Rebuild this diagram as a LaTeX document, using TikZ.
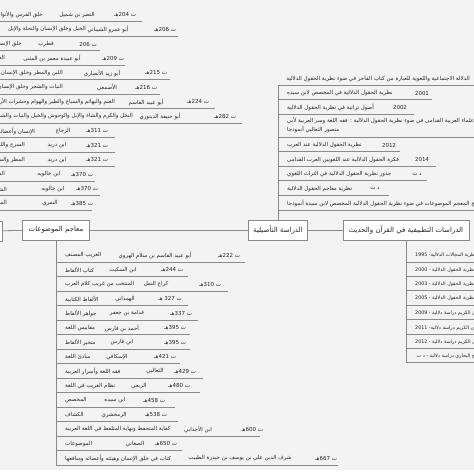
\documentclass[tikz,border=0pt]{standalone}
\usepackage{fontspec}
\newfontfamily\arabicfont[Script=Arabic]{DejaVu Sans}
\TeXXeTstate=1
\usetikzlibrary{graphs}
\definecolor{linegray}{HTML}{8A8A8A}
\definecolor{textgray}{HTML}{262626}
\definecolor{paper}{HTML}{F3F3F3}
\newcommand{\ar}[1]{\beginR #1\endR}
\tikzset{
  topic/.style= {draw=linegray, fill=white, minimum height=20pt, inner sep=2pt, font=\arabicfont\fontsize{7}{8}\selectfont, text=textgray},
  leaf/.style= {inner sep=0pt, font=\arabicfont\fontsize{5.5}{6.5}\selectfont, text=textgray},
  smallleaf/.style= {leaf, font=\arabicfont\fontsize{4.8}{6}\selectfont},
  branch/.style= {draw=linegray, line width=0.8pt},
}

\begin{document}
\begin{tikzpicture}[x=1pt, y=-1pt]
  \useasboundingbox (0,0) rectangle (474,474);
  \clip (0,0) rectangle (474,474);
  \fill [paper] (0,0) rectangle (474,470);
  \fill [white] (0,470) rectangle (474,474);

  % main topics
  \node [topic, anchor=east, minimum width=40pt] (root) at (2,231) {};
  \node [topic, minimum width=67pt] (mawd) at (56,230) {\ar{معاجم الموضوعات}};
  \node [topic, minimum width=59pt] (tasil) at (278,230) {\ar{الدراسة التأصيلية}};
  \node [topic, minimum width=126pt] (tatbiq) at (406,230) {\ar{الدراسات التطبيقية في القرآن والحديث}};

  \graph [edges=branch] {
    (root) -- (mawd) -- (tasil) -- (tatbiq) ;
  } ;

  % top-left list: title / author / date
  \foreach \ttl/\who/\when/\tx/\wx/\dx/\lend [count=\i from 0] in {
    خلق الفرس والأنواء/النضر بن شميل/ت 204هـ/43/77/125/142,
    الخيل وخلق الإنسان والنحلة والإبل/أبو عمرو الشيباني/ت 206هـ/86/108/165/178,
    خلق الإنسان والفرس/قطرب/ت 206/22/46/88/100,
    الخيل والإبل/أبو عبيدة معمر بن المثنى/ت 209هـ/5/52/113/125,
    اللبن والمطر وخلق الإنسان والإبل/أبو زيد الأنصاري/ت 215هـ/63/102/156/170,
    النبات والشجر وخلق الإنسان والإبل/الأصمعي/ت 216هـ/63/107/146/160,
    الغنم والبهائم والسباع والطير والهوام وحشرات الأرض/أبو عبيد القاسم/ت 224هـ/115/146/198/215,
    النخل والكرم والشاء والإبل والوحوش والخيل والنبات والشجر/أبو حنيفة الدينوري/ت 282هـ/133/160/225/242,
    الإنسان وأعضائه/الزجاج/ت 311هـ/35/63/97/115,
    السرج واللجام/ابن دريد/ت 321هـ/25/57/97/115,
    المطر والسحاب/ابن دريد/ت 321هـ/25/57/97/115,
    الشجر والنبات/ابن خالويه/ت 370هـ/5/49/82/95,
    الشاء/ابن خالويه/ت 370هـ/7/53/87/100,
    الملمع/النمري/ت 385هـ/7/50/82/92
  }{
    \pgfmathsetmacro\yy{15+14.5*\i}
    \coordinate (tl\i) at (-5,\yy+6.5);
    \coordinate (tle\i) at (\lend,\yy+6.5);
    \draw [branch] (tl\i) -- (tle\i);
    \node [leaf, anchor=east] (tlt\i) at (\tx,\yy) {\ar{\ttl}};
    \node [leaf] (tla\i) at (\wx,\yy) {\ar{\who}};
    \node [leaf] (tld\i) at (\dx,\yy) {\ar{\when}};
  }

  % top-right list
  \coordinate (trtop) at (278,85);
  \coordinate (trtope) at (480,85);
  \draw [branch] (tasil.north) -- (trtop) -- (trtope);
  \node [leaf, anchor=east] (trhead) at (470,79) {\ar{الدلالة الاجتماعية واللغوية للعبارة من كتاب الفاخر في ضوء نظرية الحقول الدلالية}};
  \foreach \ttl/\when/\dx/\lend/\yy [count=\i] in {
    نظرية الحقول الدلالية في المخصص لابن سيده/2001/422/432/99.6,
    أصول تراثية في نظرية الحقول الدلالية/2002/400/414/114.2,
    نظرية الحقول الدلالية عند العرب/2012/389/400/151.6,
    فكرة الحقول الدلالية عند اللغويين العرب القدامى/2014/422/436/166.2,
    جذور نظرية الحقول الدلالية في التراث اللغوي/\ar{د ت}/417/427/180.8,
    نظرية معاجم الحقول الدلالية/\ar{د ت}/375/389/195.4
  }{
    \coordinate (tr\i) at (278,\yy);
    \coordinate (tre\i) at (\lend,\yy);
    \draw [branch] (tr\i) -- (tre\i);
    \node [leaf, anchor=west] (trt\i) at (287,\yy-6.5) {\ar{\ttl}};
    \node [leaf] (trd\i) at (\dx,\yy-6.5) {\when};
  }
  \coordinate (trlong) at (278,137);
  \coordinate (trlonge) at (480,137);
  \draw [branch] (trlong) -- (trlonge);
  \node [leaf, anchor=west] (trla) at (287,121) {\ar{عند علماء العربية القدامى في ضوء نظرية الحقول الدلالية : فقه اللغة وسر العربية لأبي}};
  \node [leaf, anchor=west] (trlb) at (287,129.5) {\ar{منصور الثعالبي أنموذجا}};
  \coordinate (trlast) at (278,210);
  \coordinate (trlaste) at (480,210);
  \draw [branch] (trlast) -- (trlaste);
  \node [leaf, anchor=west] (trl) at (287,203.5) {\ar{نسيج المعجم الموضوعات في ضوء نظرية الحقول الدلالية المخصص لابن سيدة أنموذجا}};

  % bottom-left list: title / author / date
  \foreach \ttl/\who/\when/\wx/\dx/\lend [count=\i from 0] in {
    الغريب المصنف/أبو عبيد القاسم بن سلام الهروي/ت 222هـ/155/229/245,
    كتاب الألفاظ/ابن السكيت/ت 244هـ/123/172/188,
    المنتخب من غريب كلام العرب/كراع النمل/ت 310هـ/156/210/228,
    الألفاظ الكتابية/الهمذاني/ت 327 هـ/125/170/188,
    جواهر الألفاظ/قدامة بن جعفر/ت 337هـ/127/181/198,
    مقاييس اللغة/أحمد بن فارس/ت 395هـ/122/175/190,
    متخير الألفاظ/ابن فارس/ت 395هـ/122/175/190,
    مبادئ اللغة/الإسكافي/ت 421هـ/117/165/180,
    فقه اللغة وأسرار العربية/الثعالبي/ت 429هـ/155/185/203,
    نظام الغريب في اللغة/الربعي/ت 480هـ/139/179/200,
    المخصص/ابن سيده/ت 458هـ/115/154/175,
    الكشاف/الزمخشري/ت 538هـ/114/156/178,
    كفاية المتحفظ ونهاية المتلفظ في اللغة العربية/ابن الأجدابي/ت 600هـ/198/252/260,
    الموضوعات/الصغاني/ت 650هـ/135/166/182,
    كتاب في خلق الإنسان وهيئته وأعضائه ومنافعها/شرف الدين علي بن يوسف بن حيدرة الطبيب/ت 667هـ/240/326/338
  }{
    \pgfmathsetmacro\yy{255.5+14.5*\i}
    \coordinate (bl\i) at (56,\yy+6.5);
    \coordinate (ble\i) at (\lend,\yy+6.5);
    \draw [branch] (bl\i) -- (ble\i);
    \node [leaf, anchor=west] (blt\i) at (65,\yy) {\ar{\ttl}};
    \node [leaf] (bla\i) at (\wx,\yy) {\ar{\who}};
    \node [leaf] (bld\i) at (\dx,\yy) {\ar{\when}};
  }
  \draw [branch] (mawd.south) -- (bl14);

  % bottom-right list
  \foreach \ttl [count=\i from 0] in {
    نظرية المجالات الدلالية- 1995,
    نظرية الحقول الدلالية - 2000,
    نظرية الحقول الدلالية - 2003,
    نظرية الحقول الدلالية - 2005,
    القرآن الكريم دراسة دلالية - 2009,
    القرآن الكريم دراسة دلالية- 2011,
    القرآن الكريم دراسة دلالية - 2012,
    صحيح البخاري دراسة دلالية - د ت
  }{
    \pgfmathsetmacro\yy{255.5+14.4*\i}
    \coordinate (br\i) at (406,\yy+6.5);
    \coordinate (bre\i) at (480,\yy+6.5);
    \draw [branch] (br\i) -- (bre\i);
    \node [smallleaf, anchor=west] (brt\i) at (415,\yy) {\ar{\ttl}};
  }
  \draw [branch] (tatbiq.south) -- (br7);
\end{tikzpicture}
\end{document}
